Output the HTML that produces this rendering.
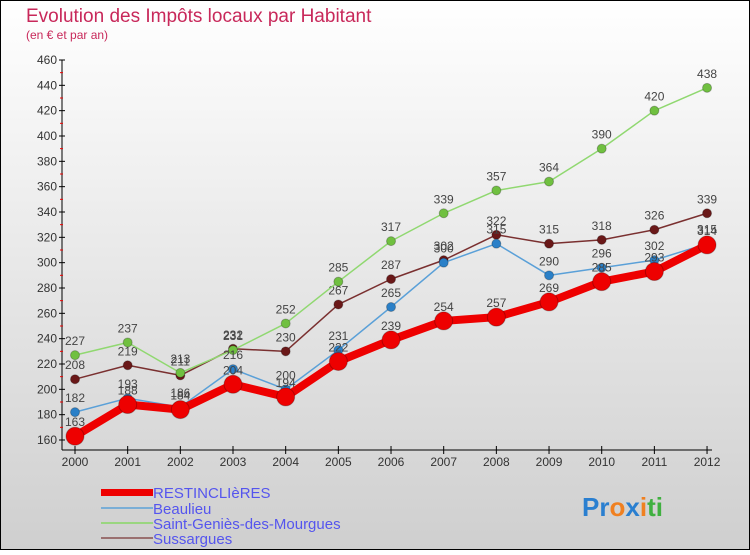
<!DOCTYPE html>
<html><head><meta charset="utf-8"><style>
body{margin:0;width:750px;height:550px;overflow:hidden;font-family:"Liberation Sans",sans-serif}
</style></head><body>
<svg id="c" width="750" height="550" xmlns="http://www.w3.org/2000/svg">
<defs><linearGradient id="bg" x1="0" y1="0" x2="0" y2="1"><stop offset="0" stop-color="#ffffff"/><stop offset="1" stop-color="#cfcfcf"/></linearGradient></defs>
<rect x="0.5" y="0.5" width="749" height="549" fill="url(#bg)" stroke="#000" stroke-width="1"/>
<text x="26" y="22" font-size="19" fill="#c8285a">Evolution des Impôts locaux par Habitant</text>
<text x="26" y="39" font-size="12" fill="#c8285a">(en € et par an)</text>
<g id="axes"></g><g id="series"></g>
<g font-size="15">
<rect x="101" y="489" width="52" height="7" fill="#e00"/>
<text x="153" y="498" fill="#5555ee">RESTINCLIèRES</text>
<rect x="101" y="507" width="52" height="2" fill="#7aaed6"/>
<text x="153" y="514" fill="#5555ee">Beaulieu</text>
<rect x="101" y="522" width="52" height="2" fill="#9ad680"/>
<text x="153" y="529" fill="#5555ee">Saint-Geniès-des-Mourgues</text>
<rect x="101" y="537" width="52" height="2" fill="#9a7070"/>
<text x="153" y="544" fill="#5555ee">Sussargues</text>
</g>
<text x="582" y="516" font-size="26" font-weight="bold"><tspan fill="#2a7fd0">Pr</tspan><tspan fill="#f08020">o</tspan><tspan fill="#2a7fd0">x</tspan><tspan fill="#f08020">i</tspan><tspan fill="#40b040">ti</tspan></text>
</svg>
<script>
const years=[2000,2001,2002,2003,2004,2005,2006,2007,2008,2009,2010,2011,2012];
const restinclieres=[163,188,184,204,194,222,239,254,257,269,285,293,314];
const beaulieu=[182,193,186,216,200,231,265,300,315,290,296,302,315];
const saintGenies=[227,237,213,231,252,285,317,339,357,364,390,420,438];
const sussargues=[208,219,211,232,230,267,287,302,322,315,318,326,339];
const yTicks=[160,180,200,220,240,260,280,300,320,340,360,380,400,420,440,460];
const NS="http://www.w3.org/2000/svg";
const x=i=>75+i*52.67;
const y=v=>440-(v-160)*1.2667;
function mk(p,t,a){const e=document.createElementNS(NS,t);for(const k in a)e.setAttribute(k,a[k]);p.appendChild(e);return e;}
const ax=document.getElementById('axes');
mk(ax,'line',{x1:62,y1:y(460),x2:62,y2:450,stroke:'#000'});
mk(ax,'line',{x1:62,y1:450,x2:712,y2:450,stroke:'#000'});
yTicks.forEach(v=>{
 mk(ax,'line',{x1:59,y1:y(v),x2:65,y2:y(v),stroke:'#000'});
 if(v<460)mk(ax,'line',{x1:60,y1:y(v+10),x2:63,y2:y(v+10),stroke:'#e00'});
 const t=mk(ax,'text',{x:57,y:y(v)+4,'text-anchor':'end','font-size':12,fill:'#333'});
 
 
 t.textContent=v;
});
years.forEach((yr,i)=>{
 mk(ax,'line',{x1:x(i),y1:446,x2:x(i),y2:454,stroke:'#000'});
 const t=mk(ax,'text',{x:x(i),y:466,'text-anchor':'middle','font-size':12,fill:'#333'});
 
 
 t.textContent=yr;
});
const sg=document.getElementById('series');
const defs=[[sussargues,'#7a3030','#6a1818',1.5,4.5,'sussargues'],[saintGenies,'#90d870','#70c040',1.5,4.5,'saint-genies'],[beaulieu,'#5aa0d8','#2a80c8',1.5,4.5,'beaulieu'],[restinclieres,'#ee0000','#ee0000',8,9,'restinclieres']];
defs.forEach(([d,lc,pc,w,r,n])=>{
 const g=mk(sg,'g',{});
 
 
 const pl=mk(g,'polyline',{points:d.map((v,i)=>x(i)+','+y(v)).join(' '),fill:'none',stroke:lc,'stroke-width':w,'stroke-linejoin':'round'});
 
 
 d.forEach((v,i)=>{
  const c=mk(g,'circle',{cx:x(i),cy:y(v),r:r,fill:pc,stroke:'rgba(0,0,0,0.25)','stroke-width':1});
  
  
  const t=mk(g,'text',{x:x(i),y:y(v)-10,'text-anchor':'middle','font-size':12,fill:'#444'});
  
  
  t.textContent=v;
 });
});
</script>
</body></html>
